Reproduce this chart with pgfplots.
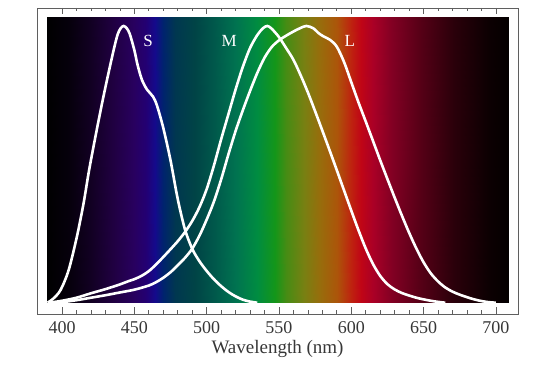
\documentclass[border=0pt]{standalone}
\usepackage{fontspec}
\setmainfont{Liberation Serif}
\usepackage{pgfplots}
\pgfplotsset{compat=1.18}
\pgfplotsset{
  colormap={spec}{
    rgb255(0pt)=(0,0,0)
    rgb255(16pt)=(6,0,12)
    rgb255(31pt)=(18,0,35)
    rgb255(46pt)=(32,0,65)
    rgb255(61pt)=(40,0,95)
    rgb255(69pt)=(35,0,115)
    rgb255(75pt)=(20,10,140)
    rgb255(81pt)=(0,35,110)
    rgb255(89pt)=(0,55,80)
    rgb255(103pt)=(0,68,70)
    rgb255(116pt)=(0,88,75)
    rgb255(131pt)=(0,115,80)
    rgb255(146pt)=(0,140,65)
    rgb255(158pt)=(20,150,25)
    rgb255(166pt)=(70,140,20)
    rgb255(178pt)=(120,128,18)
    rgb255(189pt)=(150,110,12)
    rgb255(201pt)=(172,85,10)
    rgb255(211pt)=(190,35,15)
    rgb255(218pt)=(192,5,22)
    rgb255(226pt)=(170,0,38)
    rgb255(239pt)=(130,0,35)
    rgb255(259pt)=(85,0,22)
    rgb255(282pt)=(42,0,10)
    rgb255(306pt)=(12,0,2)
    rgb255(320pt)=(4,0,0)
  }
}
\definecolor{framegray}{RGB}{95,95,95}
\definecolor{textgray}{RGB}{55,55,55}
\begin{document}
\begin{tikzpicture}
\path[use as bounding box] (-37pt,-60pt) rectangle (523pt,314pt);
\begin{axis}[
  at={(0,0)}, anchor=south west,
  scale only axis, width=481pt, height=306pt,
  xmin=382.7, xmax=715.3, ymin=-0.0408, ymax=1.065,
  colormap name=spec,
  point meta min=389, point meta max=709,
  axis on top,
  axis line style={draw=framegray, line width=0.8pt},
  xtick={400,450,...,700}, minor x tick num=4,
  ytick=\empty,
  tick align=inside,
  major tick length=6.5pt, minor tick length=3.5pt,
  every tick/.style={framegray, line width=0.6pt},
  /pgf/number format/assume math mode=true,
  xticklabel style={font=\fontsize{18}{18}\selectfont, text=textgray, anchor=base, yshift=-20pt},
  xlabel={Wavelength (nm)},
  xlabel style={font=\fontsize{19}{19}\selectfont, text=textgray, at={(axis description cs:0.5,0)}, anchor=base, yshift=-39.3pt},
]
\addplot[surf, shader=interp, point meta=x] table {
x y
389.5 0
405 0
420 0
435 0
450 0
458 0
464 0
470 0
478 0
492 0
505 0
520 0
535 0
547 0
555 0
567 0
578 0
590 0
600 0
607 0
615 0
628 0
648 0
671 0
695 0
709 0

389.5 1.034
405 1.034
420 1.034
435 1.034
450 1.034
458 1.034
464 1.034
470 1.034
478 1.034
492 1.034
505 1.034
520 1.034
535 1.034
547 1.034
555 1.034
567 1.034
578 1.034
590 1.034
600 1.034
607 1.034
615 1.034
628 1.034
648 1.034
671 1.034
695 1.034
709 1.034
};
% S cone
\addplot[white, line width=2.6pt, smooth, mark=none] coordinates {
(390,0) (394,0.015) (399,0.046) (404.6,0.118) (410.3,0.239) (414.9,0.359) (419.1,0.49) (425.8,0.672) (430.6,0.793) (435.7,0.913) (438.5,0.97) (440.6,0.992) (442.6,1.0) (444.7,0.992) (446.8,0.972) (450,0.913) (452.3,0.858) (455.3,0.805) (458.8,0.770) (462.9,0.745) (465.7,0.712) (470,0.632) (475,0.515) (480,0.375) (485,0.265) (490,0.195) (495,0.150) (500,0.115) (505,0.085) (510,0.060) (515,0.039) (520,0.023) (525,0.011) (530,0.004) (535,0)
};
% M cone
\addplot[white, line width=2.6pt, smooth, mark=none] coordinates {
(391,0) (400,0.007) (410,0.018) (420,0.034) (430,0.049) (440,0.066) (445,0.076) (450,0.085) (455,0.097) (460,0.114) (465,0.138) (470,0.165) (475,0.193) (480,0.222) (485,0.255) (490,0.295) (495,0.345) (500,0.41) (505,0.495) (510,0.59) (515,0.68) (520,0.77) (525,0.852) (530,0.92) (535,0.967) (539,0.992) (542,1.0) (545,0.99) (550,0.96) (555,0.92) (560,0.878) (565,0.822) (570,0.760) (575,0.692) (580,0.622) (585,0.551) (590,0.479) (595,0.406) (600,0.333) (605,0.262) (610,0.196) (615,0.140) (620,0.097) (625,0.067) (630,0.048) (635,0.035) (640,0.026) (645,0.018) (650,0.012) (655,0.007) (660,0.003) (665,0)
};
% L cone
\addplot[white, line width=2.6pt, smooth, mark=none] coordinates {
(394,0) (400,0.002) (410,0.009) (420,0.018) (430,0.027) (440,0.037) (450,0.047) (460,0.062) (465,0.074) (470,0.09) (475,0.11) (480,0.135) (485,0.162) (490,0.195) (495,0.242) (500,0.300) (505,0.365) (510,0.445) (515,0.535) (520,0.62) (525,0.695) (530,0.765) (535,0.83) (540,0.885) (545,0.924) (550,0.948) (555,0.965) (560,0.98) (565,0.993) (569,1.0) (573.7,0.992) (577.2,0.975) (580.6,0.963) (585.3,0.950) (589.9,0.926) (595,0.87) (600,0.797) (605,0.724) (610,0.655) (615,0.585) (620,0.515) (625,0.447) (630,0.38) (635,0.315) (640,0.253) (645,0.196) (650,0.146) (655,0.106) (660,0.077) (665,0.055) (670,0.04) (675,0.029) (680,0.02) (685,0.012) (690,0.006) (695,0.002) (700,0)
};
\node[white, font=\fontsize{17}{17}\selectfont] at (axis cs:459.5,0.947) {S};
\node[white, font=\fontsize{17}{17}\selectfont] at (axis cs:515.6,0.947) {M};
\node[white, font=\fontsize{17}{17}\selectfont] at (axis cs:599,0.947) {L};
\end{axis}
\end{tikzpicture}
\end{document}
